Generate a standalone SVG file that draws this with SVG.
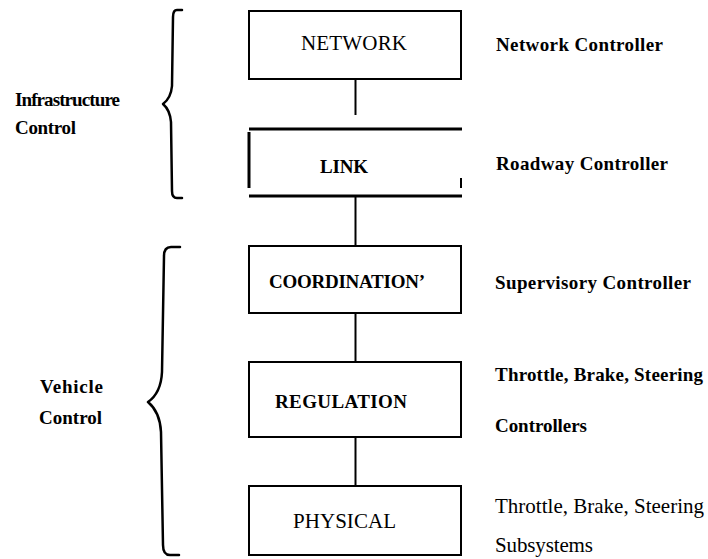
<svg xmlns="http://www.w3.org/2000/svg" width="708" height="559" viewBox="0 0 708 559">
<style>
.box{fill:none;stroke:#000;stroke-width:2}
.thick{fill:none;stroke:#000;stroke-width:3}
.conn{fill:none;stroke:#000;stroke-width:2}
.brace{fill:none;stroke:#000;stroke-width:2.5;stroke-linejoin:round;stroke-linecap:round}
.b{font-family:"Liberation Serif","Times New Roman",serif;font-weight:bold;font-size:19px;fill:#000}
.r{font-family:"Liberation Serif","Times New Roman",serif;font-size:21px;fill:#000}
</style>
<rect width="708" height="559" fill="#fff"/>
<g id="connectors">
<line class="conn" x1="355.5" y1="79" x2="355.5" y2="115"/>
<line class="conn" x1="355.5" y1="196" x2="355.5" y2="246"/>
<line class="conn" x1="355.5" y1="313" x2="355.5" y2="362"/>
<line class="conn" x1="355.5" y1="437" x2="355.5" y2="486"/>
</g>
<g id="network">
<rect class="box" x="249" y="11" width="212" height="68"/>
<text class="r" x="301" y="50" textLength="106">NETWORK</text>
</g>
<g id="link">
<line class="thick" x1="249" y1="129" x2="462" y2="129"/>
<line class="thick" x1="249" y1="196" x2="462" y2="196"/>
<line class="thick" x1="249" y1="132" x2="249" y2="188"/>
<line class="box" x1="461" y1="178" x2="461" y2="188"/>
<text class="b" x="320" y="173" textLength="48">LINK</text>
</g>
<g id="coordination">
<rect class="box" x="249" y="246" width="212" height="67"/>
<text class="b" x="269" y="288" textLength="156">COORDINATION’</text>
</g>
<g id="regulation">
<rect class="box" x="249" y="362" width="212" height="75"/>
<text class="b" x="275" y="408" textLength="132">REGULATION</text>
</g>
<g id="physical">
<rect class="box" x="249" y="486" width="212" height="69"/>
<text class="r" x="293" y="528" textLength="103">PHYSICAL</text>
</g>
<g id="infrastructure-brace">
<path class="brace" d="M182,10 L177,10 Q173,10 173,17 L172,86 Q171,98 163,104 Q170,110 171,122 L172,191 Q172,198 177,198 L182,198"/>
<text class="b" x="15" y="106" textLength="105">Infrastructure</text>
<text class="b" x="15" y="134" textLength="61">Control</text>
</g>
<g id="vehicle-brace">
<path class="brace" d="M180,247 L171,247 Q164,247 164,256 L162,372 Q161,393 148,402 Q160,412 161,432 L163,545 Q163,555 170,555 L179,555"/>
<text class="b" x="40" y="393" textLength="63">Vehicle</text>
<text class="b" x="39" y="424" textLength="63">Control</text>
</g>
<g id="labels">
<text class="b" x="496" y="51" textLength="167">Network  Controller</text>
<text class="b" x="496" y="170" textLength="172">Roadway  Controller</text>
<text class="b" x="495" y="289" textLength="196">Supervisory  Controller</text>
<text class="b" x="495" y="381" textLength="208">Throttle,  Brake,  Steering</text>
<text class="b" x="495" y="432" textLength="92">Controllers</text>
<text class="r" x="495" y="513" textLength="209">Throttle, Brake, Steering</text>
<text class="r" x="495" y="552" textLength="98">Subsystems</text>
</g>
</svg>
